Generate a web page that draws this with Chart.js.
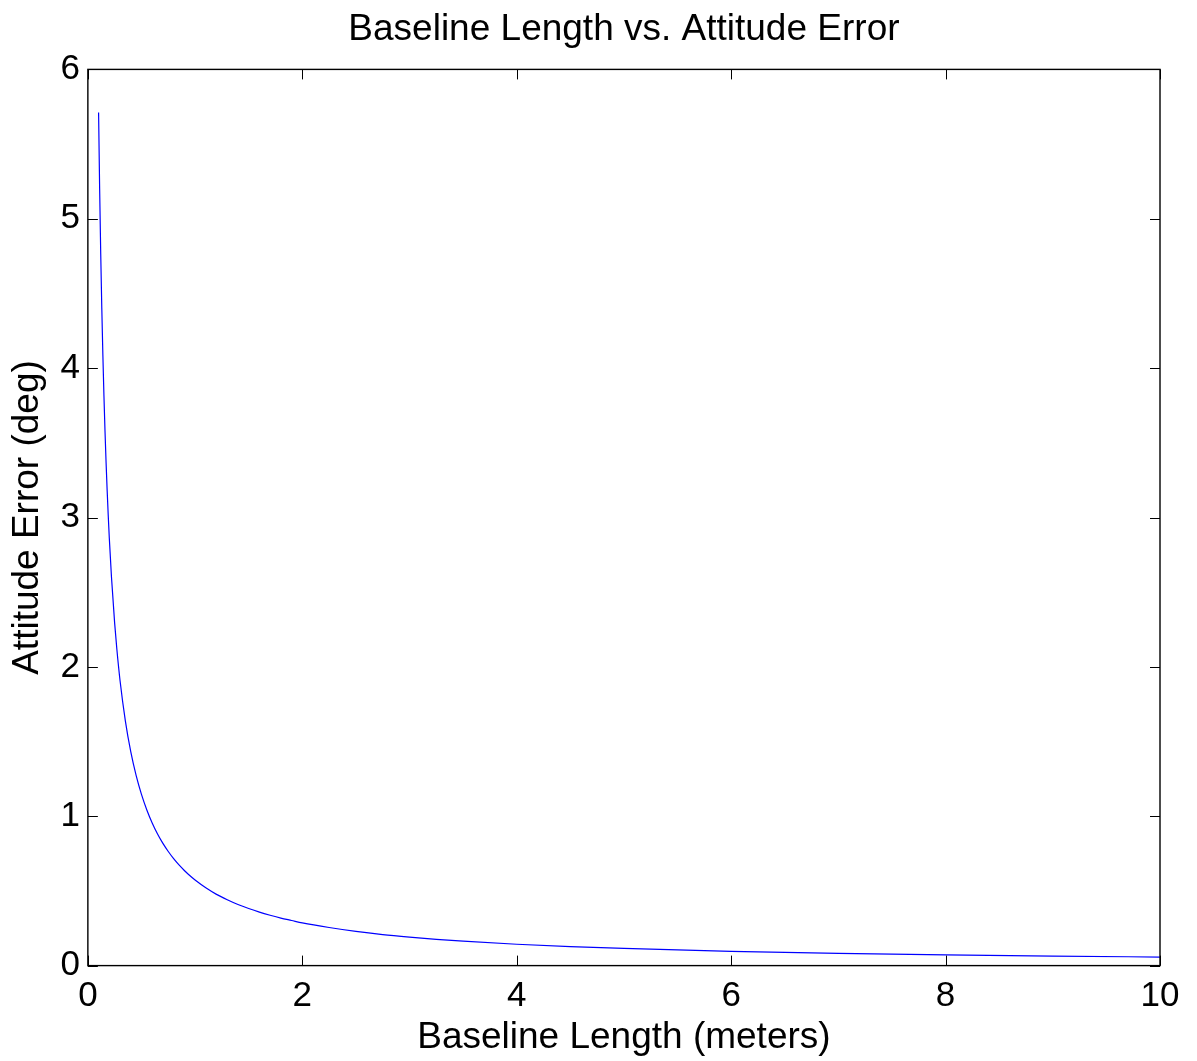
<!DOCTYPE html>
<html>
<head>
<meta charset="utf-8">
<script src="https://cdn.jsdelivr.net/npm/chart.js@4"></script>
<style>
  html, body { margin: 0; padding: 0; background: #fff; }
  #wrap { width: 1197px; height: 1061px; position: relative; }
</style>
</head>
<body>
<div id="wrap"><canvas id="c"></canvas></div>
<script>
// Values
const baselineLength = [0.1, 0.11, 0.12, 0.13, 0.14, 0.15, 0.16, 0.17, 0.18, 0.19, 0.2, 0.22, 0.25, 0.27, 0.3, 0.35, 0.4, 0.45, 0.5, 0.55, 0.6, 0.65, 0.7, 0.75, 0.8, 0.85, 0.9, 0.95, 1.0, 1.1, 1.2, 1.3, 1.4, 1.5, 1.6, 1.7, 1.8, 1.9, 2, 2.25, 2.5, 2.75, 3, 3.25, 3.5, 4, 4.5, 5, 6, 7, 8, 9, 10];
const attitudeError = [5.711, 5.194, 4.764, 4.399, 4.086, 3.814, 3.576, 3.367, 3.180, 3.013, 2.862, 2.603, 2.291, 2.121, 1.909, 1.637, 1.432, 1.273, 1.146, 1.042, 0.955, 0.881, 0.818, 0.764, 0.716, 0.674, 0.637, 0.603, 0.573, 0.521, 0.477, 0.441, 0.409, 0.382, 0.358, 0.337, 0.318, 0.302, 0.286, 0.255, 0.229, 0.208, 0.191, 0.176, 0.164, 0.143, 0.127, 0.115, 0.0955, 0.0819, 0.0716, 0.0637, 0.0573];
const xTicks = [0, 2, 4, 6, 8, 10];
const yTicks = [0, 1, 2, 3, 4, 5, 6];

const FONT = 'Liberation Sans, Arial, Helvetica, sans-serif';

// MATLAB-style box with inward ticks on all four sides
const boxTicks = {
    id: 'boxTicks',
    afterLayout(chart) {
        // center the title over the axes, not the whole canvas
        const t = chart.titleBlock;
        if (t) {
            t.left = chart.chartArea.left;
            t.right = chart.chartArea.right;
        }
    },
    afterDraw(chart) {
        const { ctx, chartArea: a, scales } = chart;
        const len = 10;
        ctx.save();
        ctx.strokeStyle = '#000';
        ctx.lineWidth = 1.4;
        ctx.strokeRect(a.left, a.top, a.right - a.left, a.bottom - a.top);
        ctx.lineWidth = 1;
        ctx.beginPath();
        xTicks.forEach(v => {
            const px = Math.round(scales.x.getPixelForValue(v)) + 0.5;
            ctx.moveTo(px, a.bottom); ctx.lineTo(px, a.bottom - len);
            ctx.moveTo(px, a.top); ctx.lineTo(px, a.top + len);
        });
        yTicks.forEach(v => {
            const py = Math.round(scales.y.getPixelForValue(v)) + 0.5;
            ctx.moveTo(a.left, py); ctx.lineTo(a.left + len, py);
            ctx.moveTo(a.right, py); ctx.lineTo(a.right - len, py);
        });
        ctx.stroke();
        ctx.restore();
    }
};

new Chart(document.getElementById('c'), {
    type: 'line',
    data: {
        datasets: [{
            data: baselineLength.map((x, i) => ({ x: x, y: attitudeError[i] })),
            borderColor: '#0000ff',
            borderWidth: 1.2,
            pointRadius: 0,
            cubicInterpolationMode: 'monotone',
            fill: false
        }]
    },
    options: {
        responsive: true,
        maintainAspectRatio: false,
        animation: false,
        layout: { padding: { top: 0, right: 37, bottom: 1, left: 6 } },
        plugins: {
            legend: { display: false },
            tooltip: { enabled: false },
            title: {
                display: true,
                text: 'Baseline Length vs. Attitude Error',
                color: '#000',
                font: { family: FONT, size: 37, weight: 'normal', lineHeight: 1.2 },
                padding: { top: 8, bottom: 17 }
            }
        },
        scales: {
            x: {
                type: 'linear',
                min: 0,
                max: 10,
                afterBuildTicks: s => { s.ticks = xTicks.map(v => ({ value: v })); },
                grid: { display: false, drawTicks: false },
                border: { display: false },
                ticks: {
                    color: '#000',
                    font: { family: FONT, size: 35, lineHeight: 1.0 },
                    padding: 13,
                    maxRotation: 0
                },
                title: {
                    display: true,
                    text: 'Baseline Length (meters)',
                    color: '#000',
                    font: { family: FONT, size: 37, lineHeight: 1.2 },
                    padding: { top: -11, bottom: 0 }
                }
            },
            y: {
                min: 0,
                max: 6,
                afterBuildTicks: s => { s.ticks = yTicks.map(v => ({ value: v })); },
                grid: { display: false, drawTicks: false },
                border: { display: false },
                ticks: {
                    color: '#000',
                    font: { family: FONT, size: 35 },
                    padding: 8
                },
                title: {
                    display: true,
                    text: 'Attitude Error (deg)',
                    color: '#000',
                    font: { family: FONT, size: 37, lineHeight: 1.2 },
                    padding: { top: 0, bottom: 2 }
                }
            }
        }
    },
    plugins: [boxTicks]
});
</script>
</body>
</html>
